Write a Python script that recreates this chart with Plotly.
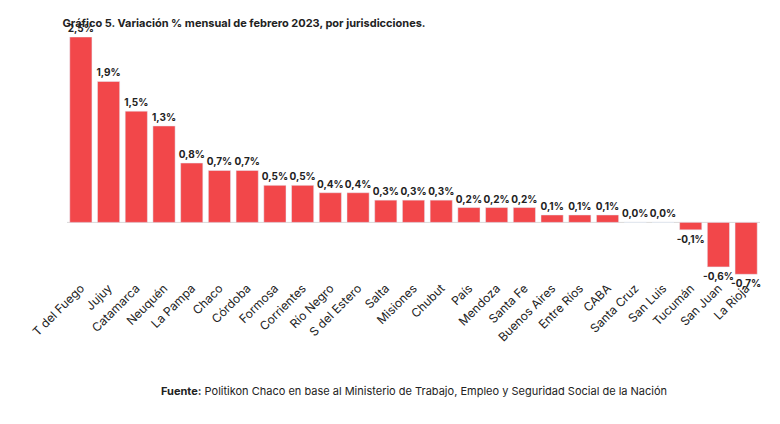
import plotly.graph_objects as go

jurisdicciones = ["T del Fuego","Jujuy","Catamarca","Neuquén","La Pampa","Chaco","Córdoba","Formosa","Corrientes","Río Negro","S del Estero","Salta","Misiones","Chubut","País","Mendoza","Santa Fe","Buenos Aires","Entre Ríos","CABA","Santa Cruz","San Luis","Tucumán","San Juan","La Rioja"]
variacion = [2.5,1.9,1.5,1.3,0.8,0.7,0.7,0.5,0.5,0.4,0.4,0.3,0.3,0.3,0.2,0.2,0.2,0.1,0.1,0.1,0.0,0.0,-0.1,-0.6,-0.7]
etiquetas = ["<b>" + f"{v:.1f}%".replace(".", ",") + "</b>" for v in variacion]

fig = go.Figure(go.Bar(
    x=jurisdicciones, y=variacion, text=etiquetas, textposition="outside",
    textfont=dict(size=10, color="#222", family="Inter"), marker_color="#F2474A",
    cliponaxis=False, constraintext="none",
))
fig.update_layout(
    width=780, height=424, paper_bgcolor="white", plot_bgcolor="white",
    margin=dict(l=59, r=28, t=29, b=154), bargap=0.2, showlegend=False,
    font=dict(family="Inter", color="#222"),
    title=dict(text="<b>Gráfico 5. Variación % mensual de febrero 2023, por jurisdicciones.</b>",
               x=0.07, xanchor="left", y=0.965, yanchor="middle", font=dict(size=11)),
    xaxis=dict(tickangle=-45, tickfont=dict(size=12), showline=False, ticks=""),
    yaxis=dict(range=[-0.75, 2.5], visible=False, zeroline=True),
    annotations=[dict(text="<b>Fuente:</b> Politikon Chaco en base al Ministerio de Trabajo, Empleo y Seguridad Social de la Nación",
                      xref="paper", yref="paper", x=0.5, y=-0.47, xanchor="center", yanchor="middle",
                      showarrow=False, font=dict(size=11))],
)
fig.add_hline(y=0, line_color="#d9d9d9", line_width=1, layer="below")
fig.write_html("out.html")
